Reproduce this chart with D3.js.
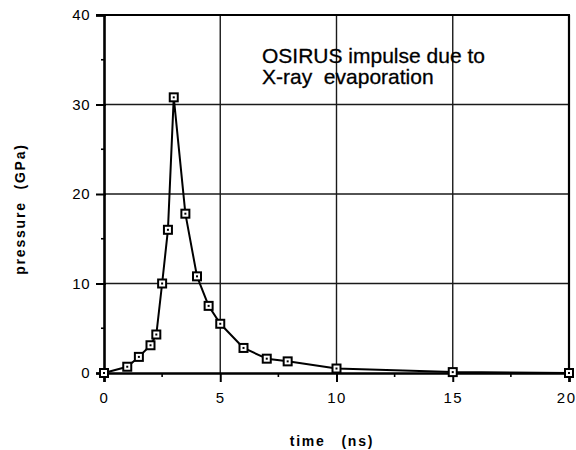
<!DOCTYPE html>
<html>
<head>
<meta charset="utf-8">
<script src="https://cdn.jsdelivr.net/npm/d3@7"></script>
<style>
  html, body { margin: 0; padding: 0; background: #fff; }
  svg { display: block; font-family: "Liberation Sans", Arial, Helvetica, sans-serif; }
</style>
</head>
<body>
<svg id="chart" width="576" height="450"></svg>
<script>
// Pressure pulse from X-ray evaporation (OSIRUS)
const timeNs = [0, 1, 1.5, 2, 2.25, 2.5, 2.75, 3, 3.5, 4, 4.5, 5, 6, 7, 7.9, 10, 15, 20];
const pressureGPa = [0, 0.7, 1.8, 3.1, 4.3, 10, 16, 30.8, 17.8, 10.8, 7.5, 5.5, 2.8, 1.6, 1.3, 0.5, 0.1, 0];

const xMajorTicks = [0, 5, 10, 15, 20];
const xMinorTicks = [2.5, 7.5, 12.5, 17.5];
const yMajorTicks = [0, 10, 20, 30, 40];
const yMinorTicks = [5, 15, 25, 35];

const titleLines = ["OSIRUS impulse due to", "X-ray  evaporation"];
const xTitle = "time (ns)";
const yTitle = "pressure (GPa)";

const svg = d3.select("#chart");
const plotLeft = 104, plotRight = 569, plotTop = 15, plotBottom = 373;
const labelFont = "Liberation Sans, Arial, sans-serif";

const x = d3.scaleLinear().domain([0, 20]).range([plotLeft, plotRight]);
const y = d3.scaleLinear().domain([0, 40]).range([plotBottom, plotTop]);

// grid lines
const grid = svg.append("g").attr("stroke", "#1a1a1a").attr("stroke-width", 1.4);
grid.selectAll("line.gx").data(xMajorTicks.slice(1, -1)).join("line")
  .attr("x1", d => x(d)).attr("x2", d => x(d)).attr("y1", plotTop).attr("y2", plotBottom);
grid.selectAll("line.gy").data(yMajorTicks.slice(1, -1)).join("line")
  .attr("y1", d => y(d)).attr("y2", d => y(d)).attr("x1", plotLeft).attr("x2", plotRight);

// frame: top and right borders
svg.append("line").attr("x1", plotLeft - 8).attr("x2", plotRight + 1).attr("y1", y(40)).attr("y2", y(40))
  .attr("stroke", "#000").attr("stroke-width", 2.2);
svg.append("line").attr("x1", x(20)).attr("x2", x(20)).attr("y1", plotTop).attr("y2", plotBottom)
  .attr("stroke", "#000").attr("stroke-width", 2.2);

// y axis
const yAxis = d3.axisLeft(y).tickValues(yMajorTicks).tickSize(8).tickPadding(6).tickFormat(d3.format("d"));
const gy = svg.append("g").attr("transform", `translate(${plotLeft},0)`).call(yAxis);
gy.select(".domain").attr("stroke-width", 2.6);
gy.selectAll(".tick line").attr("stroke-width", 2).attr("x2", -8).attr("x1", 2);
gy.selectAll(".tick text").attr("font-size", 15).attr("fill", "#000").attr("letter-spacing", 0.5)
  .attr("font-family", labelFont);
svg.append("g").selectAll("line").data(yMinorTicks).join("line")
  .attr("x1", plotLeft - 3).attr("x2", plotLeft).attr("y1", d => y(d)).attr("y2", d => y(d))
  .attr("stroke", "#000").attr("stroke-width", 1.6);

// x axis
const xAxis = d3.axisBottom(x).tickValues(xMajorTicks).tickSize(9).tickPadding(10).tickFormat(d3.format("d"));
const gx = svg.append("g").attr("transform", `translate(0,${plotBottom})`).call(xAxis);
gx.select(".domain").attr("stroke-width", 2.6);
gx.selectAll(".tick line").attr("stroke-width", 2);
gx.selectAll(".tick text").attr("font-size", 15).attr("fill", "#000").attr("letter-spacing", 1.5)
  .attr("font-family", labelFont);
// last label sits at the window edge: keep it fully inside
gx.selectAll(".tick text").filter(d => d === 20).attr("text-anchor", "end").attr("x", 576 - x(20));
svg.append("g").selectAll("line").data(xMinorTicks).join("line")
  .attr("x1", d => x(d)).attr("x2", d => x(d)).attr("y1", plotBottom).attr("y2", plotBottom + 4)
  .attr("stroke", "#000").attr("stroke-width", 1.6);

// data curve
const line = d3.line().x((d, i) => x(timeNs[i])).y(d => y(d));
svg.append("path").datum(pressureGPa).attr("d", line)
  .attr("fill", "none").attr("stroke", "#000").attr("stroke-width", 2).attr("stroke-linejoin", "round");

// square markers
const pts = svg.append("g").selectAll("g").data(pressureGPa).join("g")
  .attr("transform", (d, i) => `translate(${x(timeNs[i])},${y(d)})`);
pts.append("rect").attr("x", -4).attr("y", -4).attr("width", 8).attr("height", 8)
  .attr("fill", "#fff").attr("stroke", "#000").attr("stroke-width", 2);
pts.append("rect").attr("x", -1).attr("y", -1).attr("width", 2).attr("height", 2).attr("fill", "#000");

// annotation
svg.append("g").selectAll("text").data(titleLines).join("text")
  .attr("x", 262).attr("y", (d, i) => 63 + i * 21)
  .attr("font-size", 21).attr("fill", "#000")
  .attr("stroke", "#000").attr("stroke-width", 0.3)
  .style("white-space", "pre")
  .text(d => d);

// axis titles
svg.append("text").attr("x", 332).attr("y", 446).attr("text-anchor", "middle")
  .attr("font-size", 14).attr("font-weight", "bold").attr("letter-spacing", 1.8).attr("word-spacing", 10)
  .text(xTitle);
svg.append("text").attr("transform", "translate(25,209) rotate(-90)").attr("text-anchor", "middle")
  .attr("font-size", 14).attr("font-weight", "bold").attr("letter-spacing", 1.8).attr("word-spacing", 6)
  .text(yTitle);
</script>
</body>
</html>
